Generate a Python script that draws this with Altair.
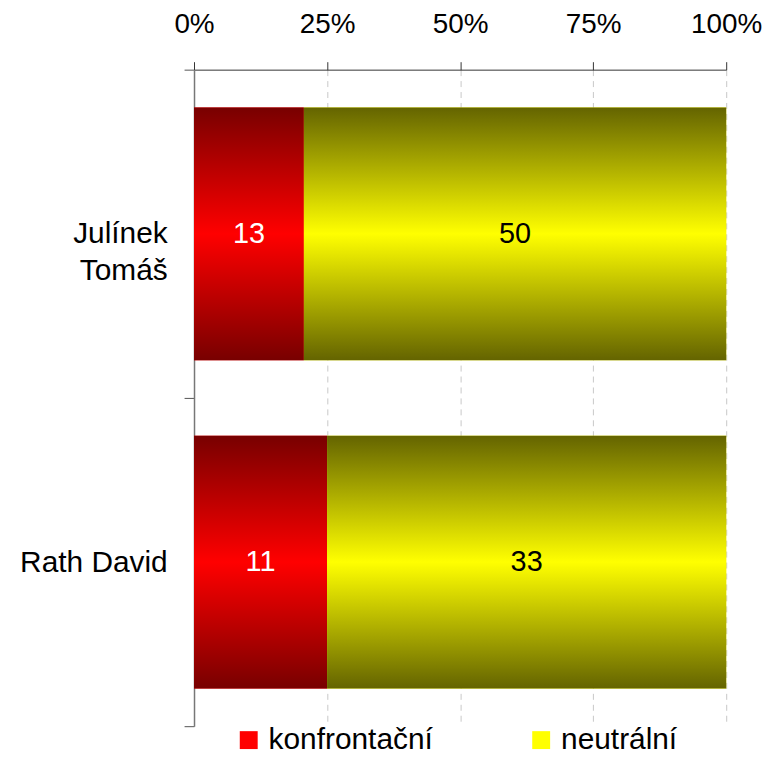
import altair as alt
import pandas as pd

names = ["Julínek|Tomáš", "Rath David"]
series = ["konfrontační", "neutrální"]
konfrontacni = [13, 11]
neutralni = [50, 33]
ticks = [0, 0.25, 0.5, 0.75, 1.0]

rows = []
for i, n in enumerate(names):
    rows.append({"name": n, "series": series[0], "value": konfrontacni[i], "order": 0})
    rows.append({"name": n, "series": series[1], "value": neutralni[i], "order": 1})
df = pd.DataFrame(rows)

FONT = "Liberation Sans"

def grad(dark, bright):
    return {
        "gradient": "linear", "x1": 0, "y1": 0, "x2": 0, "y2": 1,
        "stops": [
            {"offset": 0, "color": dark},
            {"offset": 0.5, "color": bright},
            {"offset": 1, "color": dark},
        ],
    }

g_red = grad("#780000", "#ff0000")
g_yel = grad("#646400", "#ffff00")

base = alt.Chart(df).transform_joinaggregate(
    total="sum(value)", groupby=["name"]
).transform_calculate(
    pct="datum.value / datum.total"
).transform_stack(
    stack="pct", groupby=["name"], as_=["x0", "x1"], sort=[alt.SortField("order")]
).transform_calculate(
    mid="(datum.x0 + datum.x1) / 2"
)

y_enc = alt.Y(
    "name:N", sort=names, title=None,
    scale=alt.Scale(paddingInner=0, paddingOuter=0),
    axis=alt.Axis(
        labelExpr="split(datum.label, '|')", labelFontSize=30, labelFont=FONT,
        labelColor="#000", labelLineHeight=37, labelPadding=17,
        tickBand="extent", tickSize=10, tickColor="#555", domainColor="#777",
        domainWidth=1.5, grid=False,
    ),
)

x_enc = alt.X(
    "x0:Q", title=None,
    scale=alt.Scale(domain=[0, 1], nice=False),
    axis=alt.Axis(
        orient="top", values=ticks, format=".0%", labelFontSize=28, labelFont=FONT,
        labelColor="#000", labelPadding=23, tickSize=8, tickColor="#333",
        domainColor="#333", grid=True, gridColor="#c8c8c8", gridDash=[6, 5],
        gridWidth=1, labelFlush=False,
    ),
)

BAND = alt.RelativeBandSize(0.77)

legend_bars = base.mark_bar(height=BAND).encode(
    y=y_enc, x=x_enc, x2="x1:Q",
    color=alt.Color(
        "series:N", sort=series,
        scale=alt.Scale(domain=series, range=["#ff0000", "#ffff00"]),
        legend=alt.Legend(
            title=None, orient="none", direction="horizontal", columns=2,
            legendX=40, legendY=659, symbolType="square", symbolSize=324,
            symbolStrokeWidth=0, labelFontSize=30, labelFont=FONT,
            labelColor="#000", labelOffset=5, columnPadding=93, labelLimit=0,
        ),
    ),
)

grad_bars = base.mark_bar(height=BAND).encode(
    y=alt.Y("name:N", sort=names),
    x=alt.X("x0:Q"), x2="x1:Q",
    fill=alt.condition(alt.datum.series == series[0], alt.value(g_red), alt.value(g_yel)),
)

labels = base.mark_text(fontSize=29, font=FONT, baseline="middle", align="center").encode(
    y=alt.Y("name:N", sort=names),
    x=alt.X("mid:Q"),
    text=alt.Text("value:Q"),
    color=alt.condition(alt.datum.series == series[0], alt.value("#ffffff"), alt.value("#000000")),
)

chart = alt.layer(legend_bars, grad_bars, labels).properties(
    width=535, height=660,
    autosize=alt.AutoSizeParams(type="none"),
    padding={"left": 187, "top": 60, "right": 38, "bottom": 30},
).configure_view(stroke=None)

chart.save("out.html", embed_options={"renderer": "svg", "actions": False})
